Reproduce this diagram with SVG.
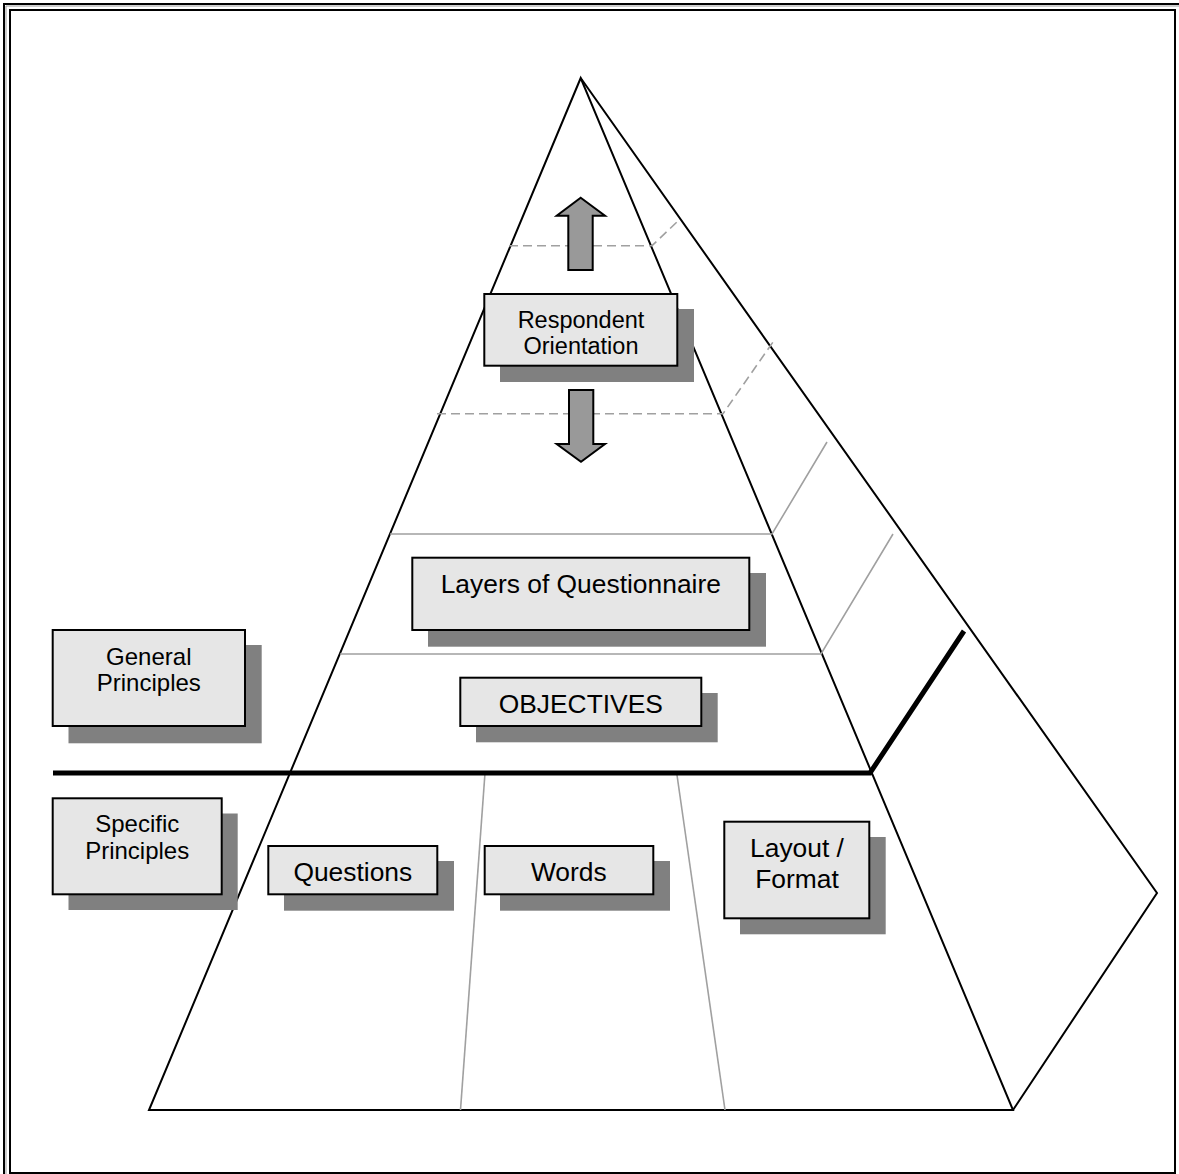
<svg xmlns="http://www.w3.org/2000/svg" width="1179" height="1174" viewBox="0 0 1179 1174">
<style>
.frame{fill:none;stroke:#000;stroke-width:2}
.edge{fill:none;stroke:#000;stroke-width:2;stroke-linejoin:miter}
.thick{fill:none;stroke:#000;stroke-width:5;stroke-linejoin:miter}
.thin{fill:none;stroke:#a0a0a0;stroke-width:1.6}
.dash{fill:none;stroke:#a0a0a0;stroke-width:1.6;stroke-dasharray:9 5}
.arrow{fill:#999;stroke:#000;stroke-width:2;stroke-linejoin:miter}
.shadow{fill:#808080}
.box{fill:#e6e6e6;stroke:#000;stroke-width:2}
text{font-family:"Liberation Sans",Arial,sans-serif;fill:#000;text-anchor:middle}
.t1{font-size:26.4px}
.t2{font-size:23.5px}
</style>
<rect x="0" y="0" width="1179" height="1174" fill="#fff"/>
<g id="frame">
<polyline class="frame" points="4,1174 4,4 1179,4"/>
<polyline points="6,1174 6,6 1179,6" fill="none" stroke="#9a9a9a" stroke-width="1"/>
<rect class="frame" x="10" y="10" width="1165" height="1163"/>
</g>
<g id="pyramid">
<polygon class="edge" points="580.7,78 149,1110 1013,1110"/>
<polyline class="edge" points="580.7,78 1157,893 1013,1110"/>
<polyline class="thin" points="390,534 772,534 827,442"/>
<polyline class="thin" points="340,654 821,654 893,534"/>
<polyline class="dash" points="509,245.7 652,245.7 678,221"/>
<polyline class="dash" points="437,413.7 723,413.7 773,342"/>
<line class="thin" x1="485" y1="773" x2="460.5" y2="1110"/>
<line class="thin" x1="676.7" y1="773" x2="725" y2="1110"/>
<polyline class="thick" points="53,773 870,773 964,631"/>
</g>
<g id="connectors">
<polygon class="arrow" points="580.7,197.7 605,215.7 592.7,215.7 592.7,270 568.3,270 568.3,215.7 556.7,215.7"/>
<polygon class="arrow" points="569,390 593.3,390 593.3,444 605,444 581,461.7 556.7,444 569,444"/>
</g>
<g id="respondent-orientation">
<rect class="shadow" x="500" y="309" width="194" height="73"/>
<rect class="box" x="484.3" y="294" width="193" height="71.7"/>
<text class="t2" x="581" y="327.7">Respondent</text>
<text class="t2" x="581" y="354.3">Orientation</text>
</g>
<g id="layers-of-questionnaire">
<rect class="shadow" x="428" y="573" width="338" height="73.7"/>
<rect class="box" x="412.3" y="557.7" width="337" height="72.3"/>
<text class="t1" x="580.8" y="593.3">Layers of Questionnaire</text>
</g>
<g id="objectives">
<rect class="shadow" x="476" y="693" width="241.7" height="49.3"/>
<rect class="box" x="460.3" y="677.7" width="241" height="48.3"/>
<text class="t1" x="580.8" y="713.3">OBJECTIVES</text>
</g>
<g id="general-principles">
<rect class="shadow" x="68.5" y="645" width="193.2" height="98.3"/>
<rect class="box" x="52.7" y="630" width="192.3" height="96"/>
<text class="t2" x="148.8" y="664.5" style="font-size:24px">General</text>
<text class="t2" x="148.8" y="691" style="font-size:24px">Principles</text>
</g>
<g id="specific-principles">
<rect class="shadow" x="68.5" y="813.5" width="169.2" height="96.5"/>
<rect class="box" x="52.7" y="798.3" width="169" height="96"/>
<text class="t2" x="137.2" y="832" style="font-size:24px">Specific</text>
<text class="t2" x="137.2" y="859.3" style="font-size:24px">Principles</text>
</g>
<g id="questions">
<rect class="shadow" x="284" y="861" width="170" height="49.7"/>
<rect class="box" x="268.3" y="846" width="169" height="48.3"/>
<text class="t1" x="352.8" y="880.7">Questions</text>
</g>
<g id="words">
<rect class="shadow" x="500" y="861" width="170" height="49.7"/>
<rect class="box" x="484.7" y="846" width="168.6" height="48.3"/>
<text class="t1" x="568.8" y="880.7">Words</text>
</g>
<g id="layout-format">
<rect class="shadow" x="740" y="837" width="145.7" height="97.3"/>
<rect class="box" x="724.3" y="821.7" width="145" height="96.6"/>
<text class="t1" x="797" y="857">Layout /</text>
<text class="t1" x="797" y="887.5">Format</text>
</g>
</svg>
